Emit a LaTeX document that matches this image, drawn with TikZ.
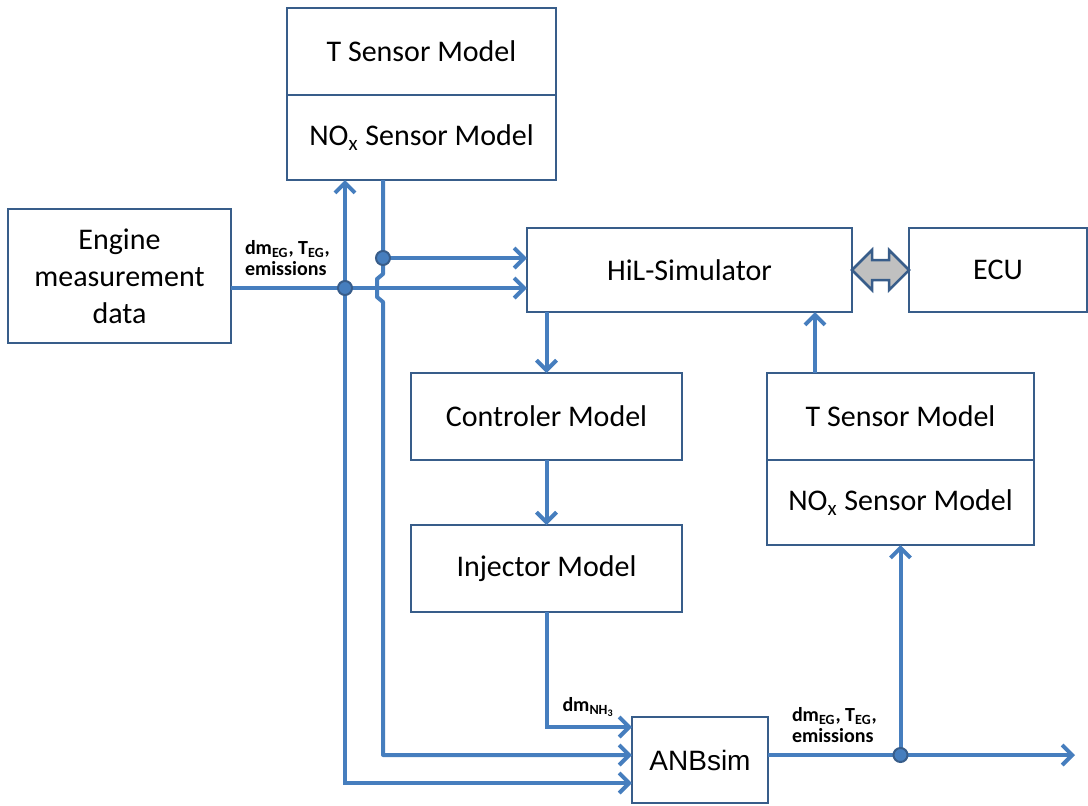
\documentclass[tikz,border=0pt]{standalone}
\usepackage{fontspec}
\setmainfont{Carlito}
\newfontfamily\anbfont{Liberation Sans}
\usepackage{tikz}
\usetikzlibrary{arrows.meta, positioning, calc}
\definecolor{boxblue}{RGB}{56, 93, 138}
\definecolor{lineblue}{RGB}{70, 126, 190}
\definecolor{linkgray}{RGB}{192, 192, 192}
\tikzset{
    block/.style={rectangle, draw=boxblue, line width=1.25pt, fill=white, text centered, align=center, inner sep=0pt, outer sep=0pt, font=\fontsize{15}{18.5}\selectfont},
    flow/.style={draw=lineblue, line width=2pt, -{Straight Barb[length=5pt, width=10pt]}},
    dot/.style={circle, fill=lineblue, draw=boxblue, line width=1pt, inner sep=0pt, minimum size=7pt},
    sig/.style={font=\bfseries\fontsize{10}{10.5}\selectfont, align=left, inner sep=0pt}
}

\begin{document}
\begin{tikzpicture}[x=0.5pt, y=-0.5pt]
        \useasboundingbox (0,0) rectangle (1088,805);

        \node [block, minimum width=111.5pt, minimum height=67pt] (engine) at (119.5,276) {Engine\\measurement\\data};

        \node [block, minimum width=134.5pt, minimum height=43.5pt] (topT) at (421.5,51.5) {T Sensor Model};
        \node [block, minimum width=134.5pt, minimum height=42.5pt, below=0pt of topT] (topN) {NO\textsubscript{x} Sensor Model};

        \node [block, minimum width=162.5pt, minimum height=42pt] (hil) at (689.5,270) {HiL-Simulator};
        \node [block, minimum width=89pt, minimum height=42pt, right=28.5pt of hil] (ecu) {ECU};

        \node [block, minimum width=135.5pt, minimum height=43.5pt] (ctrl) at (546.5,416.5) {Controler Model};
        \node [block, minimum width=135.5pt, minimum height=43.5pt, below=32.5pt of ctrl] (inj) {Injector Model};

        \node [block, minimum width=133.5pt, minimum height=43.5pt] (rT) at (900.5,416.5) {T Sensor Model};
        \node [block, minimum width=133.5pt, minimum height=42.5pt, below=0pt of rT] (rN) {NO\textsubscript{x} Sensor Model};

        \node [block, minimum width=68pt, minimum height=43pt, font=\anbfont\fontsize{14}{16}\selectfont] (anb) at (700,760) {ANBsim};

        \coordinate (j1) at (345,288);
        \coordinate (j2) at (383,258);
        \coordinate (j3) at (rN.south |- 0,755);
        \coordinate (out) at (1075,755);

        % Draws
        \draw [flow] (j1) -- (j1 |- topN.south);
        \draw [flow] (j1) |- (anb.west |- 0,783);
        \draw [flow, line join=round] (j2 |- topN.south) -- (383,274) -- (377,279) -- (377,297) -- (383,302) -- (383,755) -- (anb.west |- 0,755);
        \draw [flow] (j2) -- (hil.west |- j2);
        \draw [flow] (engine.east |- j1) -- node[sig, pos=0, anchor=south west, xshift=6pt, yshift=5pt] {dm\textsubscript{EG}, T\textsubscript{EG},\\emissions} (hil.west |- j1);
        \draw [flow] (ctrl.north |- hil.south) -- (ctrl.north);
        \draw [flow] (ctrl) -- (inj);
        \draw [flow] (inj.south) |- node[sig, pos=0.5, anchor=south west, xshift=7pt, yshift=4pt] {dm\textsubscript{NH\textsubscript{3}}} (anb.west |- 0,727);
        \draw [flow] (anb.east |- out) -- node[sig, pos=0, anchor=south west, xshift=11pt, yshift=5pt] {dm\textsubscript{EG}, T\textsubscript{EG},\\emissions} (out);
        \draw [flow] (j3) -- (rN.south);
        \draw [flow] (rT.north -| 815,0) -- (hil.south -| 815,0);

        \draw [draw=boxblue, line width=1.25pt, fill=linkgray, line join=miter] (hil.east) -- ++(20,-20) -- ++(0,10) -- ++(17,0) -- ++(0,-10) -- (ecu.west) -- ++(-20,20) -- ++(0,-10) -- ++(-17,0) -- ++(0,10) -- cycle;

        \node [dot] at (j1) {};
        \node [dot] at (j2) {};
        \node [dot] at (j3) {};
    \end{tikzpicture}
\end{document}
